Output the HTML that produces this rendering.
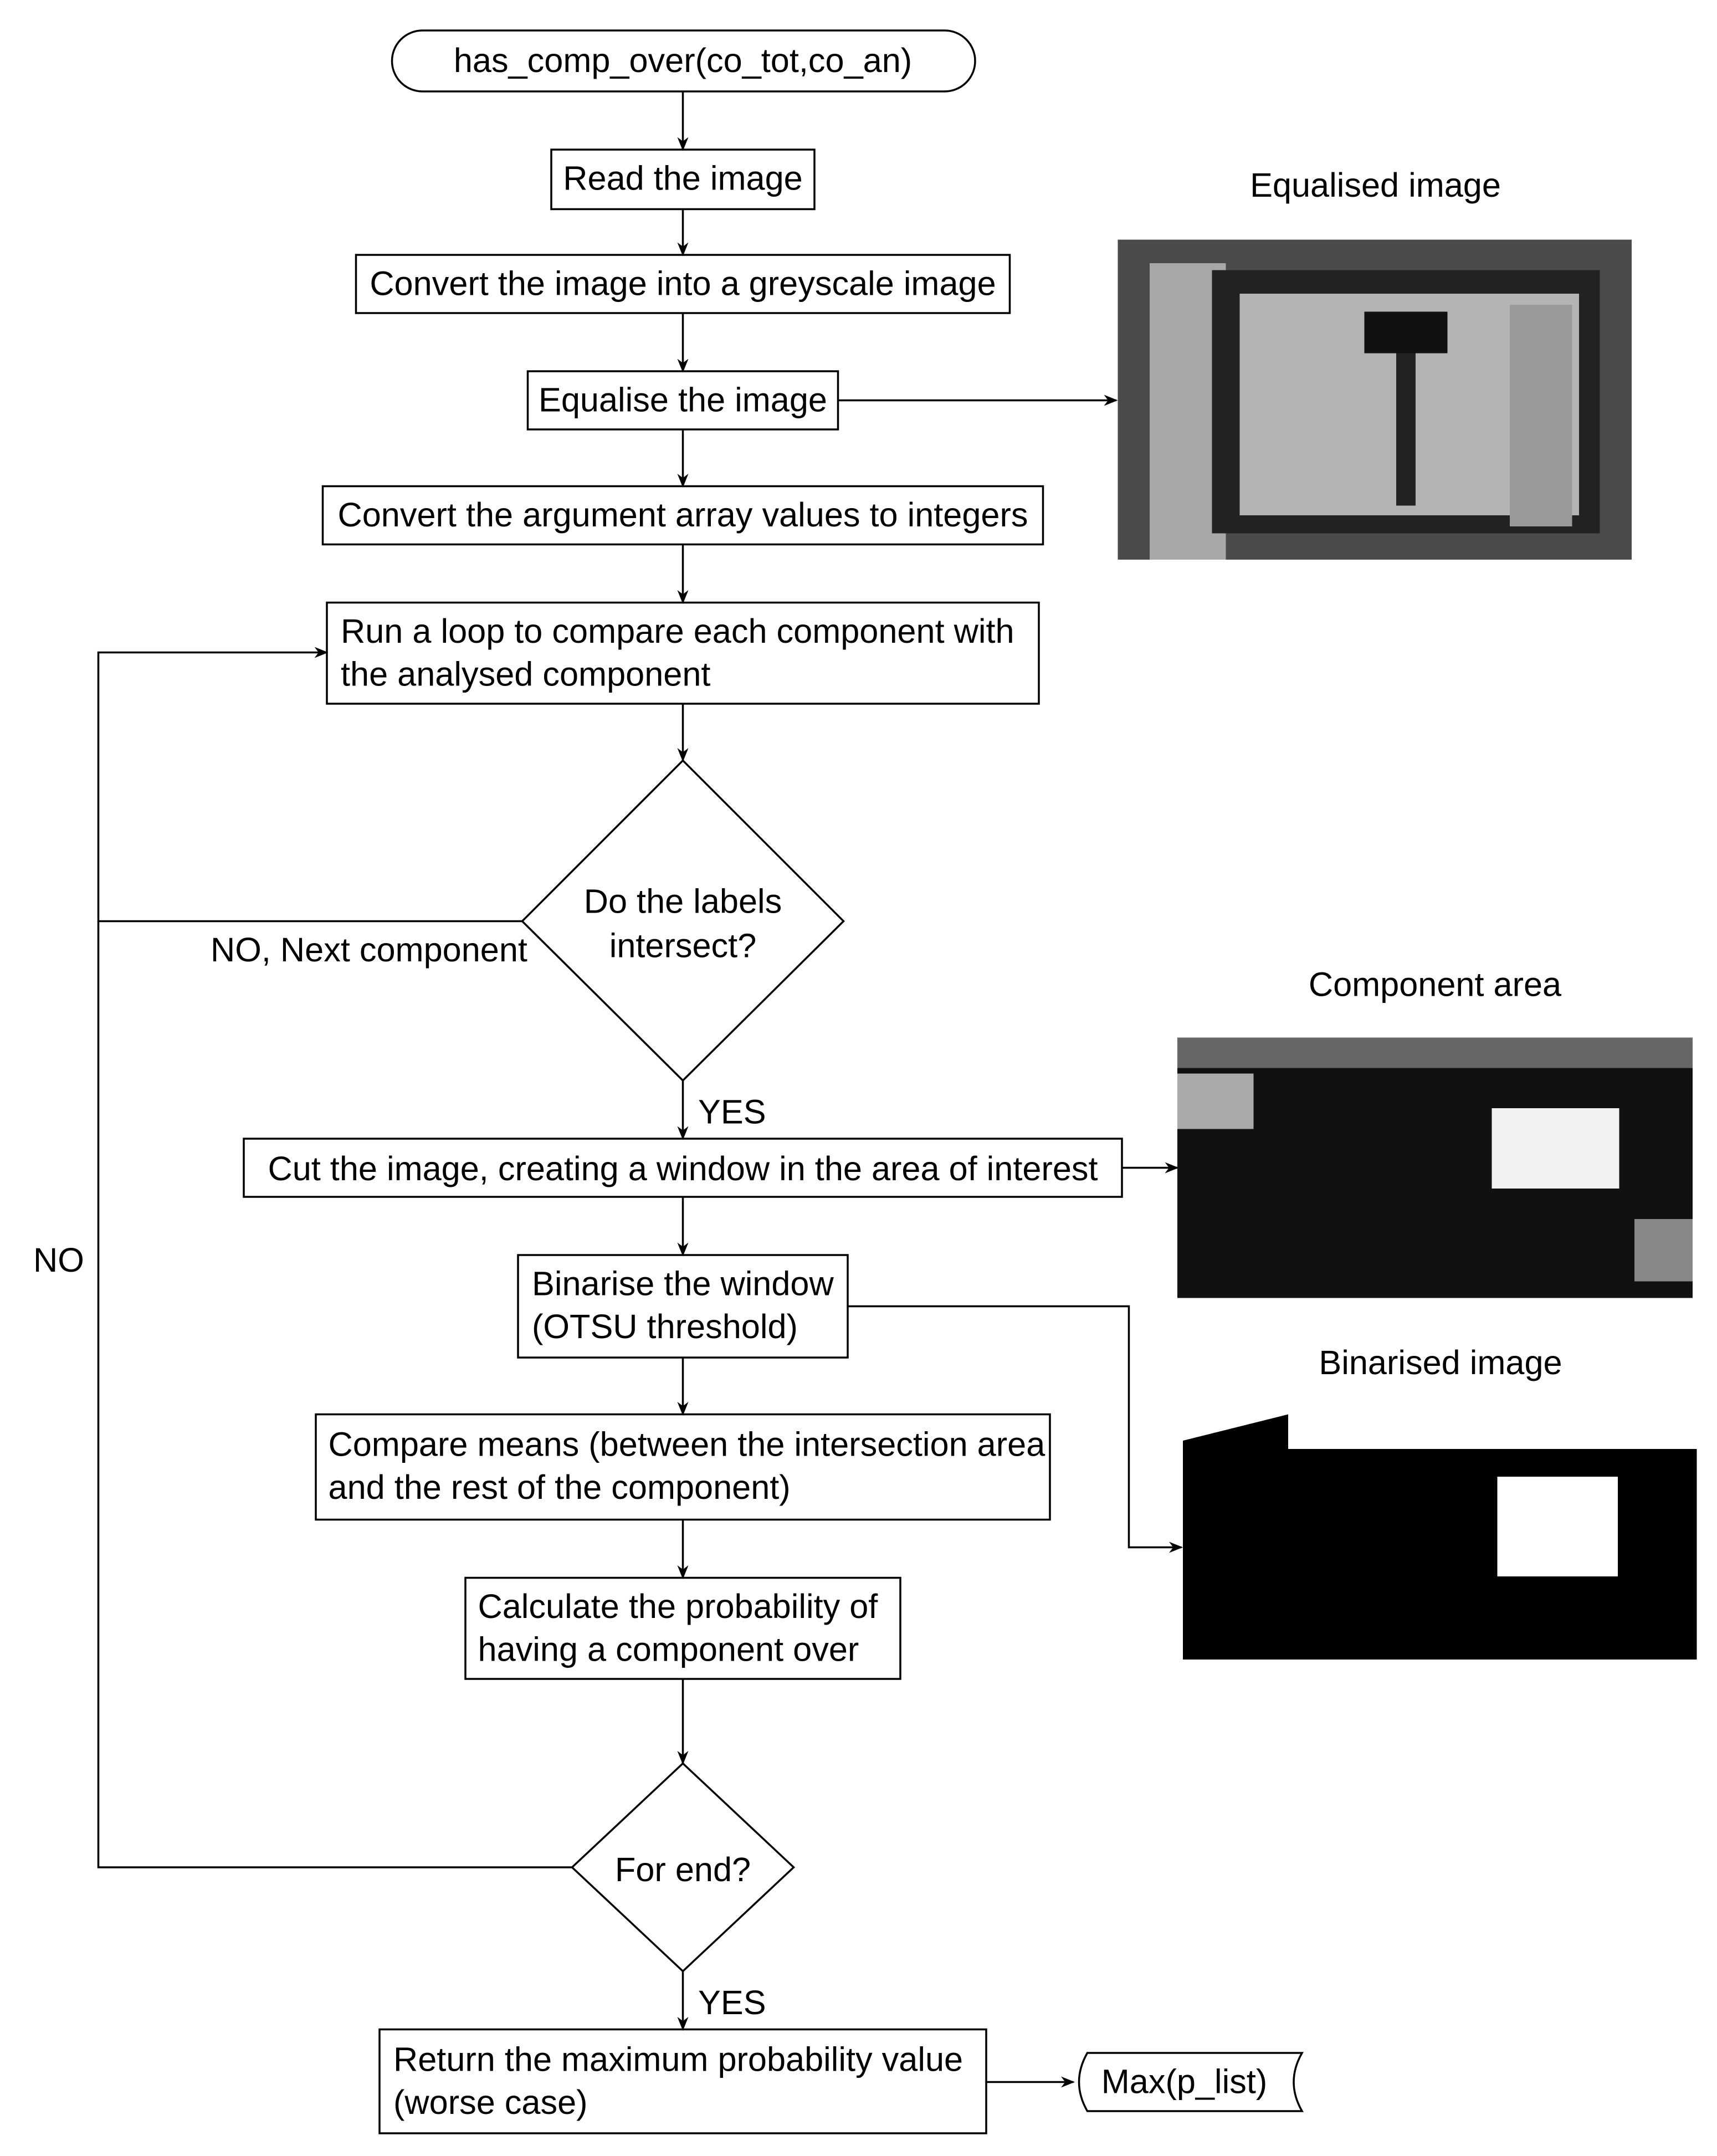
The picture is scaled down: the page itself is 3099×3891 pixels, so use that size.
<!DOCTYPE html>
<html><head><meta charset="utf-8"><style>
html,body{margin:0;padding:0;background:#fff}
svg{display:block}
text{font-family:"Liberation Sans","DejaVu Sans",sans-serif;font-size:24.5px;fill:#000}
</style></head><body>
<svg width="3099" height="3891" viewBox="0 0 1239.6 1556.4" xmlns="http://www.w3.org/2000/svg">
<defs><marker id="a" markerWidth="10" markerHeight="8" refX="9" refY="4" orient="auto" markerUnits="userSpaceOnUse"><path d="M0,0 L10,4 L0,8 L3,4 Z" fill="#000"/></marker></defs>
<g fill="none" stroke="#000" stroke-width="1.4">
<rect x="283" y="22" width="421" height="44" rx="22"/>
<rect x="398" y="108" width="190" height="43"/>
<rect x="257" y="184" width="472" height="42"/>
<rect x="381" y="268" width="224" height="42"/>
<rect x="233" y="351" width="520" height="42"/>
<rect x="236" y="435" width="514" height="73"/>
<polygon points="493,549 609,665 493,780 377,665"/>
<rect x="176" y="822" width="634" height="42"/>
<rect x="374" y="906" width="238" height="74"/>
<rect x="228" y="1021" width="530" height="76"/>
<rect x="336" y="1139" width="314" height="73"/>
<polygon points="493,1273 573,1348 493,1423 413,1348"/>
<rect x="274" y="1465" width="438" height="75"/>
<path d="M785,1482 L940,1482 Q928,1503 940,1524 L785,1524 Q773,1503 785,1482 Z"/>
<polyline points="413,1348 71,1348 71,665"/>
</g>
<g stroke="#000" stroke-width="1.4" fill="none" marker-end="url(#a)">
<line x1="493" y1="66" x2="493" y2="108"/>
<line x1="493" y1="151" x2="493" y2="184"/>
<line x1="493" y1="226" x2="493" y2="268"/>
<line x1="605" y1="289" x2="806" y2="289"/>
<line x1="493" y1="310" x2="493" y2="351"/>
<line x1="493" y1="393" x2="493" y2="435"/>
<line x1="493" y1="508" x2="493" y2="549"/>
<polyline points="377,665 71,665 71,471 236,471"/>
<line x1="493" y1="780" x2="493" y2="822"/>
<line x1="810" y1="843" x2="850" y2="843"/>
<line x1="493" y1="864" x2="493" y2="906"/>
<polyline points="612,943 815,943 815,1117 853,1117"/>
<line x1="493" y1="980" x2="493" y2="1021"/>
<line x1="493" y1="1097" x2="493" y2="1139"/>
<line x1="493" y1="1212" x2="493" y2="1273"/>
<line x1="493" y1="1423" x2="493" y2="1465"/>
<line x1="712" y1="1503" x2="775" y2="1503"/>
</g>
<!-- images -->
<rect x="807" y="173" width="371" height="231" fill="#4a4a4a"/>
<rect x="830" y="190" width="55" height="214" fill="#a8a8a8"/>
<rect x="875" y="195" width="280" height="190" fill="#222"/>
<rect x="895" y="212" width="245" height="160" fill="#b4b4b4"/>
<rect x="985" y="225" width="60" height="30" fill="#111"/>
<rect x="1008" y="255" width="14" height="110" fill="#222"/>
<rect x="1090" y="220" width="45" height="160" fill="#999"/>
<rect x="850" y="749" width="372" height="188" fill="#111"/>
<rect x="850" y="749" width="372" height="22" fill="#666"/>
<rect x="1077" y="800" width="92" height="58" fill="#f2f2f2"/>
<rect x="850" y="775" width="55" height="40" fill="#aaa"/>
<rect x="1180" y="880" width="42" height="45" fill="#888"/>
<rect x="854" y="1021" width="371" height="189" fill="#000"/>
<rect x="930" y="1021" width="295" height="25" fill="#fff"/>
<polygon points="854,1021 930,1021 854,1040" fill="#fff"/>
<rect x="1081" y="1066" width="87" height="72" fill="#fff"/>
<rect x="854" y="1198" width="371" height="12" fill="#fff"/>
<!-- text -->
<g text-anchor="middle">
<text x="493" y="52">has_comp_over(co_tot,co_an)</text>
<text x="493" y="137">Read the image</text>
<text x="493" y="213">Convert the image into a greyscale image</text>
<text x="493" y="297">Equalise the image</text>
<text x="493" y="380">Convert the argument array values to integers</text>
<text x="493" y="659">Do the labels</text>
<text x="493" y="691">intersect?</text>
<text x="493" y="852">Cut the image, creating a window in the area of interest</text>
<text x="493" y="1358">For end?</text>
<text x="855" y="1511">Max(p_list)</text>
<text x="993" y="142">Equalised image</text>
<text x="1036" y="719">Component area</text>
<text x="1040" y="992">Binarised image</text>
</g>
<text x="246" y="464">Run a loop to compare each component with</text>
<text x="246" y="495">the analysed component</text>
<text x="152" y="694">NO, Next component</text>
<text x="24" y="918">NO</text>
<text x="504" y="811">YES</text>
<text x="384" y="935">Binarise the window</text>
<text x="384" y="966">(OTSU threshold)</text>
<text x="237" y="1051">Compare means (between the intersection area</text>
<text x="237" y="1082">and the rest of the component)</text>
<text x="345" y="1168">Calculate the probability of</text>
<text x="345" y="1199">having a component over</text>
<text x="504" y="1454">YES</text>
<text x="284" y="1495">Return the maximum probability value</text>
<text x="284" y="1526">(worse case)</text>
</svg>
</body></html>
